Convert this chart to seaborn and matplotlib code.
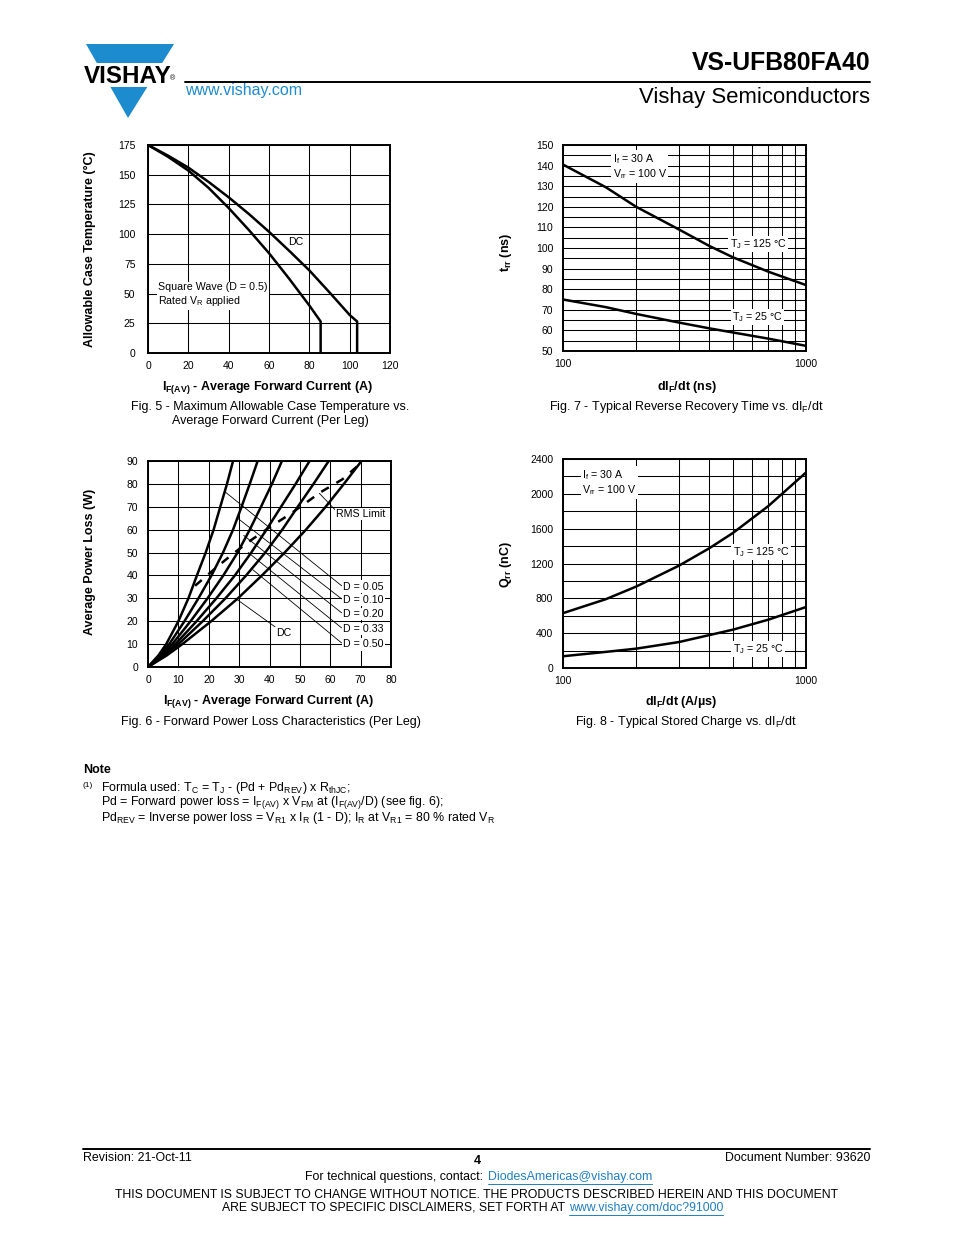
import numpy as np
import pandas as pd
import matplotlib
matplotlib.use("Agg")
import matplotlib.pyplot as plt
import seaborn as sns
from matplotlib.ticker import MultipleLocator, FixedLocator, NullFormatter
from matplotlib.patches import Polygon

# ---- Fig. 5 : allowable case temperature vs average forward current
f5_current_dc = [0, 10, 20, 30, 40, 50, 60, 70, 80, 90, 100, 103.7, 103.7]
f5_temp_dc = [175, 166, 156, 144, 131, 117, 102, 86, 69.5, 51, 32, 26.5, 0]
f5_current_sq = [0, 10, 20, 30, 40, 50, 60, 70, 80, 85.6, 85.6]
f5_temp_sq = [175, 165, 153.5, 139, 122, 103.5, 84, 62.5, 40, 26.5, 0]

# ---- Fig. 7 : trr vs dIF/dt
f7_didt = [100, 150, 200, 300, 400, 500, 700, 1000]
f7_trr_125 = [140.5, 129.5, 120, 109, 101, 95.5, 88.5, 82]
f7_trr_25 = [75, 71.3, 68, 63.8, 61, 59, 56, 52.5]

# ---- Fig. 6 : forward power loss, current read at each power level
f6_power = [0, 5, 10, 20, 30, 40, 50, 60, 70, 80, 90]
f6_curves = {
    "D = 0.05": [0, 3.4, 6.0, 10.0, 13.3, 16.1, 19.0, 21.6, 23.8, 26.0, 28.0],
    "D = 0.10": [0, 3.9, 7.0, 12.0, 16.6, 20.9, 24.7, 28.0, 30.8, 33.5, 36.1],
    "D = 0.20": [0, 4.4, 8.0, 14.0, 19.6, 24.8, 29.5, 33.5, 37.2, 40.8, 44.1],
    "D = 0.33": [0, 4.9, 9.0, 16.0, 22.5, 28.6, 34.0, 39.0, 43.8, 48.6, 53.2],
    "D = 0.50": [0, 5.4, 10.0, 18.0, 25.5, 32.3, 38.6, 44.2, 49.3, 54.5, 59.5],
    "DC": [0, 6.1, 11.3, 20.8, 29.6, 37.5, 45.0, 52.0, 58.5, 64.5, 70.3],
}
f6_rms_current = [15.5, 22.5, 28, 34, 40, 47, 57, 64, 70]
f6_rms_power = [35.5, 43.5, 49.5, 55.5, 61, 67, 76.5, 82, 89]

# ---- Fig. 8 : Qrr vs dIF/dt
f8_didt = [100, 150, 200, 300, 400, 500, 700, 1000]
f8_qrr_125 = [630, 790, 935, 1175, 1375, 1550, 1860, 2245]
f8_qrr_25 = [135, 185, 222, 298, 378, 440, 555, 700]

sns.set_theme(style="white")
plt.rcParams["font.family"] = ["Liberation Sans", "DejaVu Sans"]
plt.rcParams["mathtext.fontset"] = "custom"
plt.rcParams["mathtext.rm"] = "Liberation Sans"
plt.rcParams["mathtext.it"] = "Liberation Sans:italic"
plt.rcParams["mathtext.bf"] = "Liberation Sans:bold"
plt.rcParams["text.color"] = "black"

W, H = 954, 1235
fig = plt.figure(figsize=(W / 100, H / 100), dpi=100)
fig.patch.set_facecolor("white")

page = fig.add_axes([0, 0, 1, 1], zorder=-1)
page.set_xlim(0, W)
page.set_ylim(H, 0)
page.axis("off")


def rect(l, t, r, b):
    return [l / W, 1 - b / H, (r - l) / W, (b - t) / H]


ax5 = fig.add_axes(rect(148, 145, 390, 353))
ax7 = fig.add_axes(rect(563, 145, 806, 351))
ax6 = fig.add_axes(rect(148, 461, 391, 667))
ax8 = fig.add_axes(rect(563, 459, 806, 668))

LW = 1.8
TICK = 7.5
ANN = 7.7


def style(ax, xpad=6, ypad=7):
    ax.set_facecolor("white")
    for s in ax.spines.values():
        s.set_visible(True)
        s.set_color("black")
        s.set_linewidth(1.4)
        s.set_zorder(5)
    ax.tick_params(which="both", length=0, labelsize=TICK, colors="black")
    ax.tick_params(axis="x", pad=xpad)
    ax.tick_params(axis="y", pad=ypad)
    ax.grid(True, which="both", color="black", lw=0.75)
    ax.set_axisbelow(True)
    ax.set_xlabel("")
    ax.set_ylabel("")


white_box = dict(facecolor="white", edgecolor="none", pad=1.0)

# Fig. 5
sns.lineplot(x=f5_current_dc, y=f5_temp_dc, sort=False, estimator=None,
             color="black", lw=LW, ax=ax5)
sns.lineplot(x=f5_current_sq, y=f5_temp_sq, sort=False, estimator=None,
             color="black", lw=LW, ax=ax5)
ax5.set_xlim(0, 120)
ax5.set_ylim(0, 175)
ax5.xaxis.set_major_locator(MultipleLocator(20))
ax5.yaxis.set_major_locator(MultipleLocator(25))
style(ax5, xpad=5.5, ypad=9)
ax5.text(69.4, 93.4, "DC", fontsize=ANN, ha="left", va="center")
ax5.text(5.0, 48.8, "Square Wave (D = 0.5)\nRated V$_\\mathrm{R}$ applied",
         fontsize=ANN, ha="left", va="center", linespacing=1.25, bbox=white_box)

# Fig. 7
sns.lineplot(x=f7_didt, y=f7_trr_125, color="black", lw=LW, ax=ax7)
sns.lineplot(x=f7_didt, y=f7_trr_25, color="black", lw=LW, ax=ax7)
ax7.set_xscale("log")
ax7.set_xlim(100, 1000)
ax7.set_ylim(50, 150)
ax7.set_xticks([100, 1000])
ax7.set_xticklabels(["100", "1000"])
ax7.xaxis.set_minor_locator(FixedLocator([200, 300, 400, 500, 600, 700, 800, 900]))
ax7.xaxis.set_minor_formatter(NullFormatter())
ax7.yaxis.set_major_locator(MultipleLocator(10))
ax7.yaxis.set_minor_locator(MultipleLocator(5))
style(ax7)
ax7.text(160, 139.5, "I$_\\mathrm{f}$ = 30 A\nV$_\\mathrm{rr}$ = 100 V",
         fontsize=ANN, ha="left", va="center", linespacing=1.2, bbox=white_box)
ax7.text(486, 102, "T$_\\mathrm{J}$ = 125 °C", fontsize=ANN, ha="left",
         va="center", bbox=white_box)
ax7.text(496, 66.5, "T$_\\mathrm{J}$ = 25 °C", fontsize=ANN, ha="left",
         va="center", bbox=white_box)

# Fig. 6
for name, cur in f6_curves.items():
    sns.lineplot(x=cur, y=f6_power, sort=False, estimator=None,
                 color="black", lw=LW, ax=ax6)
sns.lineplot(x=f6_rms_current, y=f6_rms_power, sort=False, estimator=None,
             color="black", lw=LW, linestyle=(0, (3.5, 3.5)), ax=ax6)
ax6.set_xlim(0, 80)
ax6.set_ylim(0, 90)
ax6.xaxis.set_major_locator(MultipleLocator(10))
ax6.yaxis.set_major_locator(MultipleLocator(10))
style(ax6)

leader = dict(arrowstyle="-", color="black", lw=0.6, shrinkA=0, shrinkB=0,
              relpos=(0, 0.5))
f6_labels = [
    ("D = 0.05", (25.3, 76.6), (64.2, 35.0)),
    ("D = 0.10", (29.5, 65.0), (64.2, 29.3)),
    ("D = 0.20", (31.5, 57.5), (64.2, 23.2)),
    ("D = 0.33", (33.0, 50.0), (64.2, 16.6)),
    ("D = 0.50", (34.5, 42.5), (64.2, 10.0)),
]
for txt, tip, pos in f6_labels:
    ax6.annotate(txt, xy=tip, xytext=pos, fontsize=ANN, ha="left", va="center",
                 bbox=white_box, arrowprops=leader)
ax6.annotate("DC", xy=(29.2, 29.6), xytext=(42.3, 14.9), fontsize=ANN,
             ha="left", va="center", bbox=white_box,
             arrowprops=dict(leader, relpos=(0, 1)))
ax6.annotate("RMS Limit", xy=(56.4, 75.9), xytext=(62.0, 66.8), fontsize=ANN,
             ha="left", va="center", bbox=white_box,
             arrowprops=dict(leader, relpos=(0, 0.8)))

# Fig. 8
sns.lineplot(x=f8_didt, y=f8_qrr_125, color="black", lw=LW, ax=ax8)
sns.lineplot(x=f8_didt, y=f8_qrr_25, color="black", lw=LW, ax=ax8)
ax8.set_xscale("log")
ax8.set_xlim(100, 1000)
ax8.set_ylim(0, 2400)
ax8.set_xticks([100, 1000])
ax8.set_xticklabels(["100", "1000"])
ax8.xaxis.set_minor_locator(FixedLocator([200, 300, 400, 500, 600, 700, 800, 900]))
ax8.xaxis.set_minor_formatter(NullFormatter())
ax8.yaxis.set_major_locator(MultipleLocator(400))
ax8.yaxis.set_minor_locator(MultipleLocator(200))
style(ax8)
ax8.text(120, 2130, "I$_\\mathrm{f}$ = 30 A\nV$_\\mathrm{rr}$ = 100 V",
         fontsize=ANN, ha="left", va="center", linespacing=1.2, bbox=white_box)
ax8.text(500, 1332, "T$_\\mathrm{J}$ = 125 °C", fontsize=ANN, ha="left",
         va="center", bbox=white_box)
ax8.text(500, 218, "T$_\\mathrm{J}$ = 25 °C", fontsize=ANN, ha="left",
         va="center", bbox=white_box)

# ---- axis labels and captions (page pixel coordinates)
LBL = 9
CAP = 9
page.text(268, 387, "I$_\\mathbf{F(AV)}$ - Average Forward Current (A)",
          fontsize=LBL, fontweight="bold", ha="center", va="center")
page.text(90, 249, "Allowable Case Temperature (°C)", fontsize=LBL,
          fontweight="bold", ha="center", va="center", rotation=90)
page.text(270, 407, "Fig. 5 - Maximum Allowable Case Temperature vs.",
          fontsize=CAP, ha="center", va="center")
page.text(270, 421, "Average Forward Current (Per Leg)",
          fontsize=CAP, ha="center", va="center")

page.text(687, 387, "dI$_\\mathbf{F}$/dt (ns)", fontsize=LBL,
          fontweight="bold", ha="center", va="center")
page.text(506, 252, "t$_\\mathbf{rr}$ (ns)", fontsize=LBL,
          fontweight="bold", ha="center", va="center", rotation=90)
page.text(686, 407, "Fig. 7 - Typical Reverse Recovery Time vs. dI$_\\mathrm{F}$/dt",
          fontsize=CAP, ha="center", va="center")

page.text(269, 702, "I$_\\mathbf{F(AV)}$ - Average Forward Current (A)",
          fontsize=LBL, fontweight="bold", ha="center", va="center")
page.text(90, 562, "Average Power Loss (W)", fontsize=LBL,
          fontweight="bold", ha="center", va="center", rotation=90)
page.text(271, 722, "Fig. 6 - Forward Power Loss Characteristics (Per Leg)",
          fontsize=CAP, ha="center", va="center")

page.text(681, 702, "dI$_\\mathbf{F}$/dt (A/µs)", fontsize=LBL,
          fontweight="bold", ha="center", va="center")
page.text(506, 565, "Q$_\\mathbf{rr}$ (nC)", fontsize=LBL,
          fontweight="bold", ha="center", va="center", rotation=90)
page.text(686, 722, "Fig. 8 - Typical Stored Charge vs. dI$_\\mathrm{F}$/dt",
          fontsize=CAP, ha="center", va="center")

# ---- header
BLUE = "#1d8ccf"
page.add_patch(Polygon([(86, 44), (174, 44), (162.2, 63), (96.8, 63)],
                       closed=True, facecolor=BLUE, edgecolor="none"))
page.add_patch(Polygon([(110.4, 87), (147.3, 87), (128, 118)],
                       closed=True, facecolor=BLUE, edgecolor="none"))
page.text(84, 83, "VISHAY", fontsize=17.4, fontweight="bold", ha="left",
          va="baseline")
page.text(170, 80, "®", fontsize=5, ha="left", va="baseline")
page.plot([185, 870], [82, 82], color="black", lw=1.4)
page.text(185, 91, "www.vishay.com", fontsize=11.5, color=BLUE, ha="left",
          va="center")
page.text(870, 63, "VS-UFB80FA40", fontsize=17.8, fontweight="bold",
          ha="right", va="center")
page.text(870, 98, "Vishay Semiconductors", fontsize=15.9, ha="right",
          va="center")

# ---- note
NOTE = 8.9
page.text(83, 770, "Note", fontsize=9, fontweight="bold", ha="left", va="center")
page.text(83, 787, "(1)", fontsize=6, ha="left", va="baseline")
page.text(101, 791, "Formula used: T$_\\mathrm{C}$ = T$_\\mathrm{J}$ - (Pd + Pd$_\\mathrm{REV}$) x R$_\\mathrm{thJC}$;",
          fontsize=NOTE, ha="left", va="baseline")
page.text(101, 804.5, "Pd = Forward power loss = I$_\\mathrm{F(AV)}$ x V$_\\mathrm{FM}$ at (I$_\\mathrm{F(AV)}$/D) (see fig. 6);",
          fontsize=NOTE, ha="left", va="baseline")
page.text(101, 820.5, "Pd$_\\mathrm{REV}$ = Inverse power loss = V$_\\mathrm{R1}$ x I$_\\mathrm{R}$ (1 - D); I$_\\mathrm{R}$ at V$_\\mathrm{R1}$ = 80 % rated V$_\\mathrm{R}$",
          fontsize=NOTE, ha="left", va="baseline")

# ---- footer
LINK = "#1f7fc8"
FOOT = 8.9
page.plot([83, 870], [1149, 1149], color="black", lw=1.4)
page.text(83, 1158, "Revision: 21-Oct-11", fontsize=FOOT, ha="left", va="center")
page.text(477, 1161, "4", fontsize=9, fontweight="bold", ha="center", va="center")
page.text(870, 1158, "Document Number: 93620", fontsize=FOOT, ha="right", va="center")
page.text(487, 1177, "For technical questions, contact: ", fontsize=FOOT,
          ha="right", va="center")
link1 = page.text(488, 1177, "DiodesAmericas@vishay.com", fontsize=FOOT,
                  color=LINK, ha="left", va="center")
page.text(477, 1195, "THIS DOCUMENT IS SUBJECT TO CHANGE WITHOUT NOTICE. THE PRODUCTS DESCRIBED HEREIN AND THIS DOCUMENT",
          fontsize=8.8, ha="center", va="center")
page.text(568, 1208, "ARE SUBJECT TO SPECIFIC DISCLAIMERS, SET FORTH AT ",
          fontsize=8.8, ha="right", va="center")
link2 = page.text(569, 1208, "www.vishay.com/doc?91000", fontsize=8.8,
                  color=LINK, ha="left", va="center")

fig.canvas.draw()
renderer = fig.canvas.get_renderer()
for t in (link1, link2):
    bb = t.get_window_extent(renderer)
    y = H - bb.y0 + 0.5
    page.plot([bb.x0, bb.x1], [y, y], color=LINK, lw=0.7)

fig.savefig("out.png", dpi=100, facecolor="white")
